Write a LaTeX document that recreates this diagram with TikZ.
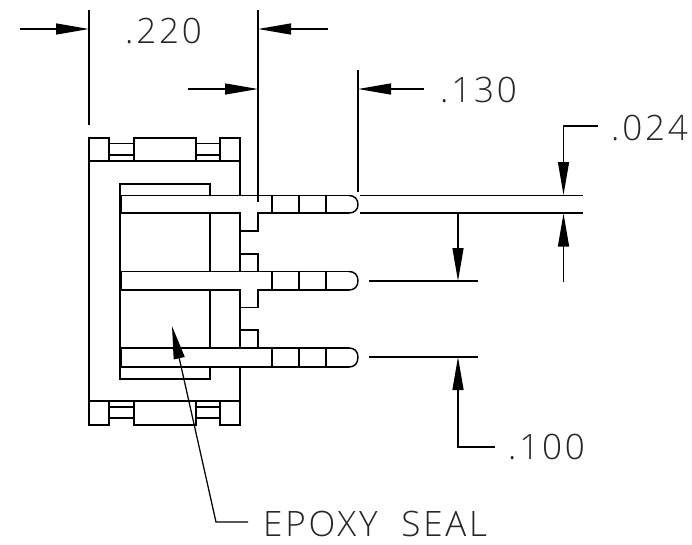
\documentclass[tikz,border=0pt]{standalone}
\usepackage{fontspec}
\setmainfont{Open Sans Light}[LetterSpace=8]
\usetikzlibrary{arrows.meta}
\tikzset{
  x=1pt,y=-1pt,
  part/.style={line width=1.45pt,line cap=round,line join=miter,black},
  dimline/.style={line width=1.25pt,black},
  headed/.style={dimline,-{Triangle[length=33pt,width=11pt]}},
  label/.style={font=\fontsize{35}{35}\selectfont,inner sep=0pt,text=black!85},
}
\newcommand{\pinend}[2]{(349,#1) .. controls (354.5,#1) and (358,#1+3.5) .. (358,#1+9.25) .. controls (358,#2-3.5) and (354.5,#2) .. (349,#2)}
\begin{document}
\begin{tikzpicture}
\useasboundingbox (0,0) rectangle (692,544);
% top tabs
\draw[part] (89,161) -- (89,138) -- (109,138) -- (109,161);
\draw[part] (134,161) -- (134,138) -- (196,138) -- (196,161);
\draw[part] (220,161) -- (220,138) -- (240,138) -- (240,161);
\draw[part] (109,143.5) -- (134,143.5) (109,155) -- (134,155);
\draw[part] (196,143.5) -- (220,143.5) (196,155) -- (220,155);
\draw[part] (89,161) -- (240,161);
% bottom tabs
\draw[part] (89,401) -- (89,425) -- (109,425) -- (109,401);
\draw[part] (134,401) -- (134,425) -- (196,425) -- (196,401);
\draw[part] (220,401) -- (220,425) -- (240,425) -- (240,401);
\draw[part] (109,407) -- (134,407) (109,418) -- (134,418);
\draw[part] (196,407) -- (220,407) (196,418) -- (220,418);
\draw[part] (89,401) -- (240,401);
% body
\draw[part] (89,161) -- (89,401);
\draw[part] (240,161) -- (240,195.5);
\draw[part] (240,367) -- (240,401);
% epoxy seal outline
\draw[part] (210,195.5) -- (210,184) -- (120,184) -- (120,379) -- (210,379) -- (210,367);
\draw[part] (210,213) -- (210,271.5) (210,290) -- (210,348);
% pin 1
\draw[part] (121.5,213) -- (121.5,195.5) -- (349,195.5);
\draw[part] \pinend{195.5}{213};
\draw[part] (349,213) -- (258,213) -- (258,231) -- (240,231);
\draw[part] (120,213) -- (240,213) -- (240,271.5);
% pin 2
\draw[part] (121.5,290) -- (121.5,271.5) -- (258,271.5);
\draw[part] (240,254) -- (258,254) -- (258,271.5) -- (349,271.5);
\draw[part] \pinend{271.5}{290};
\draw[part] (349,290) -- (258,290) -- (258,307.7) -- (240,307.7);
\draw[part] (120,290) -- (240,290) -- (240,348);
% pin 3
\draw[part] (121.5,367) -- (121.5,348) -- (258,348);
\draw[part] (240,330) -- (258,330) -- (258,348) -- (349,348);
\draw[part] \pinend{348}{367};
\draw[part] (349,367) -- (120,367);
% pin segment lines
\foreach \px in {272,299,326}{
  \draw[part] (\px,195.5) -- (\px,213);
  \draw[part] (\px,271.5) -- (\px,290);
  \draw[part] (\px,348) -- (\px,367);
}
% extension lines
\draw[dimline] (89,10) -- (89,125);
\draw[dimline] (258,10) -- (258,202);
\draw[dimline] (358,70) -- (358,192);
\draw[dimline] (360,195.5) -- (583,195.5);
\draw[dimline] (360,213) -- (583,213);
\draw[dimline] (369,281) -- (478,281);
\draw[dimline] (369,357) -- (478,357);
% dimension arrows
\draw[headed] (20,29) -- (89,29);
\draw[headed] (328,29) -- (258,29);
\draw[headed] (188,89) -- (258,89);
\draw[headed] (424,89) -- (358,89);
\draw[headed] (598,126) -- (563.5,126) -- (563.5,195);
\draw[headed] (563.5,282) -- (563.5,213.5);
\draw[headed] (458,213) -- (458,281);
\draw[headed] (495,447) -- (458,447) -- (458,357);
\draw[headed] (248,522) -- (216,522) -- (172,326);
% labels
\node[label,anchor=west] (d220) at (125,31) {.220};
\node[label,anchor=west] (d130) at (440,90) {.130};
\node[label,anchor=west] (d024) at (611,128) {.024};
\node[label,anchor=west] (d100) at (508,447) {.100};
\node[label,anchor=west] (seal) at (263,524) {EPOXY\hspace{12pt} SEAL};
\end{tikzpicture}
\end{document}
